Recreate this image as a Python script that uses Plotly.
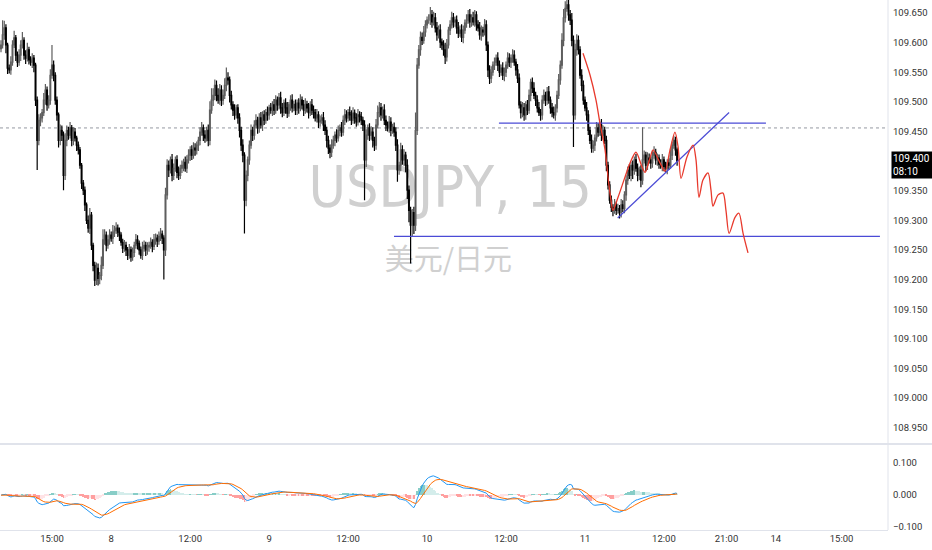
import pandas as pd
import plotly.graph_objects as go
from plotly.subplots import make_subplots

# USDJPY 15-min bars, 7 Jun 07:15 .. 11 Jun 14:00 (bar index 0..411)
# prices kept as thousandths above 109.000
closes = [
    596, 613, 625, 596, 557, 554, 567, 596, 608, 579,
    567, 579, 596, 604, 579, 574, 588, 571, 567, 574,
    562, 503, 435, 469, 473, 482, 503, 520, 495, 503,
    545, 562, 545, 503, 478, 435, 452, 444, 376, 435,
    452, 444, 456, 435, 449, 439, 427, 419, 393, 363,
    351, 326, 300, 287, 309, 258, 224, 199, 219, 202,
    207, 224, 267, 275, 258, 267, 275, 270, 280, 283,
    287, 280, 275, 263, 253, 258, 250, 241, 250, 238,
    246, 258, 267, 261, 250, 241, 253, 258, 250, 255,
    258, 263, 256, 267, 270, 265, 273, 277, 270, 250,
    343, 393, 385, 402, 376, 388, 402, 381, 376, 388,
    393, 398, 388, 402, 410, 419, 410, 422, 419, 427,
    435, 449, 456, 444, 439, 452, 435, 486, 503, 511,
    528, 511, 503, 520, 503, 511, 528, 540, 537, 511,
    495, 486, 478, 490, 473, 452, 427, 410, 334, 376,
    402, 427, 452, 444, 461, 469, 456, 473, 461, 478,
    469, 482, 478, 490, 486, 495, 486, 503, 495, 507,
    490, 482, 498, 490, 481, 495, 503, 490, 496, 486,
    498, 490, 503, 495, 486, 496, 490, 482, 495, 486,
    482, 473, 478, 466, 469, 473, 461, 452, 435, 422,
    415, 427, 435, 444, 439, 452, 456, 449, 469, 478,
    473, 482, 478, 469, 481, 473, 466, 478, 475, 469,
    461, 402, 444, 456, 444, 449, 435, 427, 461, 482,
    490, 478, 486, 469, 461, 456, 466, 452, 457, 449,
    427, 385, 393, 419, 402, 410, 393, 351, 317, 292,
    313, 292, 452, 562, 588, 609, 604, 618, 630, 638,
    638, 647, 635, 642, 625, 613, 621, 601, 596, 588,
    576, 596, 621, 630, 642, 635, 638, 625, 616, 621,
    609, 621, 633, 638, 647, 635, 642, 635, 647, 630,
    625, 613, 621, 618, 630, 596, 554, 540, 550, 562,
    567, 574, 562, 550, 557, 545, 550, 562, 574, 567,
    574, 579, 567, 554, 540, 495, 482, 490, 478, 495,
    486, 511, 533, 523, 511, 503, 490, 482, 478, 503,
    511, 503, 517, 503, 490, 482, 478, 490, 511, 537,
    562, 604, 642, 658, 664, 647, 638, 604, 478, 588,
    604, 588, 545, 528, 503, 490, 478, 452, 435, 422,
    427, 439, 456, 449, 461, 444, 452, 435, 393, 360,
    334, 322, 317, 326, 317, 320, 313, 326, 320, 343,
    368, 385, 376, 393, 385, 402, 388, 376, 385, 368,
    402, 410, 393, 405, 402, 397, 410, 415, 402, 405,
    395, 393, 402, 391, 388, 397, 393, 410, 427, 435, 419, 400,
]
up_wick = [
    8, 25, 12, 6, 4, 6, 10, 8, 12, 5,
    6, 10, 8, 14, 5, 8, 12, 5, 6, 8,
    5, 4, 6, 10, 8, 6, 12, 10, 6, 8,
    10, 34, 8, 5, 6, 4, 10, 8, 6, 12,
    8, 6, 10, 5, 8, 7, 4, 6, 5, 4,
    5, 6, 4, 8, 12, 5, 4, 6, 10, 8,
    6, 15, 18, 10, 6, 8, 10, 6, 12, 8,
    10, 6, 8, 5, 6, 9, 6, 5, 10, 6,
    8, 6, 10, 8, 5, 6, 11, 8, 6, 8,
    6, 8, 5, 10, 8, 6, 8, 10, 6, 5,
    12, 10, 8, 6, 10, 8, 6, 8, 10, 6,
    8, 6, 10, 8, 10, 6, 8, 10, 8, 6,
    6, 8, 10, 6, 8, 6, 10, 15, 20, 12,
    10, 8, 12, 10, 8, 10, 12, 18, 10, 6,
    8, 6, 10, 5, 6, 8, 6, 10, 5, 8,
    6, 8, 10, 6, 8, 10, 6, 8, 10, 6,
    8, 6, 10, 5, 8, 6, 10, 8, 6, 8,
    10, 8, 6, 8, 10, 5, 8, 10, 6, 8,
    6, 8, 10, 6, 8, 10, 6, 8, 6, 10,
    8, 6, 10, 6, 8, 6, 10, 8, 6, 8,
    6, 10, 8, 6, 10, 8, 6, 10, 8, 10,
    8, 6, 10, 8, 10, 6, 8, 10, 6, 8,
    6, 8, 10, 6, 8, 10, 8, 6, 10, 12,
    10, 8, 6, 10, 8, 6, 10, 8, 6, 8,
    8, 10, 6, 12, 8, 10, 6, 10, 8, 6,
    6, 10, 30, 12, 8, 10, 8, 10, 8, 6,
    10, 13, 8, 10, 8, 10, 8, 10, 6, 8,
    12, 10, 6, 8, 10, 8, 6, 8, 10, 8,
    10, 8, 6, 10, 8, 10, 6, 10, 8, 6,
    8, 10, 8, 6, 10, 8, 6, 8, 10, 6,
    8, 6, 10, 8, 6, 10, 8, 6, 10, 8,
    6, 10, 8, 6, 10, 8, 6, 10, 8, 6,
    8, 10, 6, 8, 10, 6, 8, 10, 6, 8,
    10, 6, 8, 10, 6, 8, 10, 6, 8, 10,
    8, 12, 15, 12, 25, 10, 8, 12, 8, 10,
    10, 8, 6, 10, 8, 6, 10, 8, 6, 10,
    8, 6, 10, 8, 6, 10, 8, 6, 8, 6,
    6, 8, 5, 10, 6, 8, 6, 10, 8, 6,
    8, 6, 10, 6, 8, 6, 10, 8, 6, 8,
    55, 8, 6, 10, 8, 6, 8, 10, 6, 8,
    6, 8, 10, 6, 8, 6, 8, 10, 6, 8, 6, 4,
]
down_wick = [
    6, 6, 8, 14, 10, 6, 8, 6, 5, 10,
    8, 6, 10, 6, 8, 10, 6, 8, 6, 10,
    12, 10, 50, 8, 10, 8, 6, 8, 10, 6,
    8, 6, 10, 8, 10, 12, 8, 10, 25, 8,
    10, 8, 6, 10, 8, 6, 10, 8, 6, 10,
    8, 10, 6, 8, 10, 8, 10, 10, 8, 12,
    10, 8, 6, 8, 10, 6, 8, 6, 10, 8,
    6, 8, 10, 6, 8, 6, 10, 8, 6, 8,
    6, 8, 6, 10, 8, 6, 8, 6, 10, 8,
    8, 6, 10, 6, 8, 10, 6, 8, 10, 50,
    10, 8, 12, 6, 10, 8, 6, 10, 8, 6,
    8, 10, 6, 8, 6, 10, 8, 6, 10, 8,
    10, 8, 6, 10, 8, 6, 10, 8, 6, 10,
    8, 10, 6, 8, 10, 8, 6, 10, 8, 12,
    8, 10, 8, 6, 10, 12, 10, 12, 56, 10,
    10, 8, 6, 10, 8, 6, 10, 8, 6, 10,
    8, 6, 10, 8, 6, 10, 8, 6, 10, 8,
    10, 8, 6, 10, 8, 6, 10, 8, 6, 8,
    8, 10, 6, 8, 10, 6, 8, 10, 6, 8,
    10, 6, 8, 10, 8, 6, 10, 8, 12, 10,
    10, 8, 6, 10, 8, 6, 10, 8, 6, 8,
    8, 6, 10, 8, 6, 10, 8, 6, 10, 8,
    10, 68, 12, 8, 10, 8, 12, 10, 8, 6,
    8, 10, 6, 8, 10, 6, 8, 10, 6, 8,
    10, 20, 8, 10, 8, 10, 12, 15, 20, 65,
    20, 15, 10, 8, 6, 10, 8, 6, 8, 6,
    6, 8, 10, 6, 8, 10, 6, 10, 8, 10,
    12, 8, 6, 8, 6, 10, 8, 10, 8, 6,
    8, 10, 6, 8, 6, 10, 8, 6, 8, 10,
    6, 8, 10, 8, 6, 10, 12, 10, 8, 6,
    8, 6, 10, 8, 6, 8, 10, 8, 6, 8,
    10, 8, 6, 10, 8, 6, 10, 8, 10, 8,
    8, 6, 10, 8, 6, 10, 8, 6, 10, 8,
    6, 10, 8, 6, 10, 8, 6, 10, 8, 6,
    8, 6, 10, 8, 6, 10, 8, 10, 54, 8,
    10, 8, 6, 10, 8, 6, 10, 8, 6, 8,
    8, 10, 6, 8, 6, 10, 8, 6, 10, 8,
    6, 8, 10, 6, 8, 6, 10, 8, 6, 8,
    10, 8, 6, 10, 15, 8, 6, 10, 8, 12,
    8, 6, 10, 8, 6, 10, 8, 6, 8, 10,
    8, 6, 10, 8, 6, 10, 8, 6, 8, 6, 10, 8,
]
first_open = 590

tick_bars = [31, 67, 115, 163, 211, 259, 307, 355, 403, 441, 471, 511]
tick_text = ["15:00", "8", "12:00", "9", "12:00", "10", "12:00", "11", "12:00", "21:00", "14", "15:00"]
price_ticks = [108.95, 109.0, 109.05, 109.1, 109.15, 109.2, 109.25, 109.3, 109.35,
               109.45, 109.5, 109.55, 109.6, 109.65]
macd_ticks = [-0.1, 0.0, 0.1]

# hand drawings (bar index, price)
upper_level = {"x": [302.7, 465.0], "y": [109.464, 109.464]}
lower_level = {"x": [238.9, 534.3], "y": [109.273, 109.273]}
trend_line = {"x": [374.9, 442.6], "y": [109.304, 109.482]}
path_x = [353.8, 358.1, 361.7, 364.1, 367.2, 369.0, 370.8, 372.0, 375.1, 379.3, 382.4, 386.0,
          389.7, 391.5, 394.5, 396.4, 400.6, 403.6, 406.7, 409.7, 411.6, 413.4, 417.0, 420.7,
          422.5, 424.3, 426.7, 429.8, 431.6, 432.8, 435.9, 438.9, 440.7, 442.6, 446.2, 448.6,
          451.1, 454.1]
path_y = [109.582, 109.545, 109.503, 109.464, 109.419, 109.373, 109.334, 109.317, 109.339,
          109.373, 109.397, 109.415, 109.390, 109.381, 109.405, 109.419, 109.397, 109.383,
          109.419, 109.449, 109.424, 109.371, 109.407, 109.427, 109.402, 109.339, 109.368,
          109.380, 109.351, 109.324, 109.343, 109.346, 109.317, 109.278, 109.305, 109.312,
          109.278, 109.245]
prev_close = 109.456
last_price = 109.400

df = pd.DataFrame({"close": [109 + c / 1000 for c in closes]})
df["open"] = df["close"].shift(1).fillna(109 + first_open / 1000)
df["high"] = df[["open", "close"]].max(axis=1) + pd.Series(up_wick) / 1000
df["low"] = df[["open", "close"]].min(axis=1) - pd.Series(down_wick) / 1000
df["bar"] = range(len(df))

# MACD 12/26/9
ema_fast = df["close"].ewm(span=12, adjust=False).mean()
ema_slow = df["close"].ewm(span=26, adjust=False).mean()
df["macd"] = ema_fast - ema_slow
df["signal"] = df["macd"].ewm(span=9, adjust=False).mean()
df["hist"] = df["macd"] - df["signal"]
prev_h = df["hist"].shift(1).fillna(0)
hist_colors = []
for h, p in zip(df["hist"], prev_h):
    if h >= 0:
        hist_colors.append("#26a69a" if h > p else "#b2dfdb")
    else:
        hist_colors.append("#ff5252" if h < p else "#ffcdd2")

fig = make_subplots(rows=2, cols=1, shared_xaxes=True, vertical_spacing=0.004)

fig.add_trace(go.Candlestick(
    x=df["bar"], open=df["open"], high=df["high"], low=df["low"], close=df["close"],
    increasing=dict(line=dict(color="#5e5e5e", width=1.2), fillcolor="#7a7a7a"),
    decreasing=dict(line=dict(color="#000000", width=1.2), fillcolor="#000000"),
    whiskerwidth=0, showlegend=False, hoverinfo="skip"), row=1, col=1)

for ln in (upper_level, lower_level, trend_line):
    fig.add_trace(go.Scatter(x=ln["x"], y=ln["y"], mode="lines",
                             line=dict(color="#4b4bd6", width=1.2),
                             showlegend=False, hoverinfo="skip"), row=1, col=1)

fig.add_trace(go.Scatter(x=path_x, y=path_y, mode="lines",
                         line=dict(color="#e8392c", width=1.3, shape="spline", smoothing=0.8),
                         showlegend=False, hoverinfo="skip"), row=1, col=1)

fig.add_trace(go.Bar(x=df["bar"], y=df["hist"], marker=dict(color=hist_colors, line=dict(width=0)),
                     width=0.5, opacity=0.55, showlegend=False, hoverinfo="skip"), row=2, col=1)
fig.add_trace(go.Scatter(x=df["bar"], y=df["macd"], mode="lines",
                         line=dict(color="#2196f3", width=1), showlegend=False, hoverinfo="skip"),
              row=2, col=1)
fig.add_trace(go.Scatter(x=df["bar"], y=df["signal"], mode="lines",
                         line=dict(color="#ff6d00", width=1), showlegend=False, hoverinfo="skip"),
              row=2, col=1)

axis_font = dict(family="Roboto, Arial, sans-serif", size=9.5, color="#333333")

fig.update_xaxes(range=[-0.6, 539.2], showgrid=False, zeroline=False, showticklabels=False,
                 rangeslider=dict(visible=False), automargin=False)
fig.update_xaxes(row=2, col=1, showticklabels=True, tickmode="array", tickvals=tick_bars,
                 ticktext=tick_text, tickfont=axis_font, ticks="", showline=True,
                 linecolor="#e0e3eb", linewidth=1)

fig.update_layout(
    width=932, height=550,
    margin=dict(l=0, r=44, t=0, b=20, autoexpand=False),
    paper_bgcolor="white", plot_bgcolor="white",
    bargap=0,
    yaxis=dict(domain=[0.164, 1], range=[108.924, 109.672], side="right",
               tickmode="array", tickvals=price_ticks, tickformat=".3f",
               showgrid=False, zeroline=False, tickfont=axis_font, ticks="",
               ticklabelstandoff=4, automargin=False),
    yaxis2=dict(domain=[0, 0.160], range=[-0.109, 0.156], side="right",
                tickmode="array", tickvals=macd_ticks, tickformat=".3f",
                showgrid=False, zeroline=False, tickfont=axis_font, ticks="",
                ticklabelstandoff=4, automargin=False),
    shapes=[
        dict(type="line", xref="paper", yref="y", x0=0, x1=1, y0=prev_close, y1=prev_close,
             line=dict(color="#9598a1", width=1, dash="dot"), layer="below"),
        dict(type="line", xref="paper", yref="paper", x0=0, x1=1.05, y0=0.1625, y1=0.1625,
             line=dict(color="#e0e3eb", width=2)),
        dict(type="line", xref="paper", yref="paper", x0=1, x1=1, y0=0, y1=1,
             line=dict(color="#e0e3eb", width=1)),
        dict(type="rect", xref="paper", yref="paper", x0=0.307, x1=0.707, y0=0.61, y1=0.70,
             line=dict(width=0), fillcolor="rgba(0,0,0,0)", layer="below",
             label=dict(text="USDJPY, 15", textposition="middle center",
                        font=dict(family="Liberation Sans Narrow, DejaVu Sans Condensed, sans-serif",
                                  size=57, color="#d0d0d0"))),
        dict(type="rect", xref="paper", yref="paper", x0=0.405, x1=0.605, y0=0.484, y1=0.529,
             line=dict(width=0), fillcolor="rgba(0,0,0,0)", layer="below",
             label=dict(text="美元/日元", textposition="middle center",
                        font=dict(family="Noto Sans CJK SC", size=29, color="#d0d0d0"))),
    ],
    annotations=[
        dict(xref="paper", yref="y", x=1, y=last_price, xanchor="left", yanchor="middle",
             xshift=3, yshift=-4, text="109.400<br>08:10", showarrow=False, align="left",
             bgcolor="#000000", borderpad=1, width=38,
             font=dict(family="Roboto, Arial, sans-serif", size=10, color="white")),
    ],
)

fig.write_html("out.html", config={"displayModeBar": False},
               post_script="document.body.style.margin='0';")
